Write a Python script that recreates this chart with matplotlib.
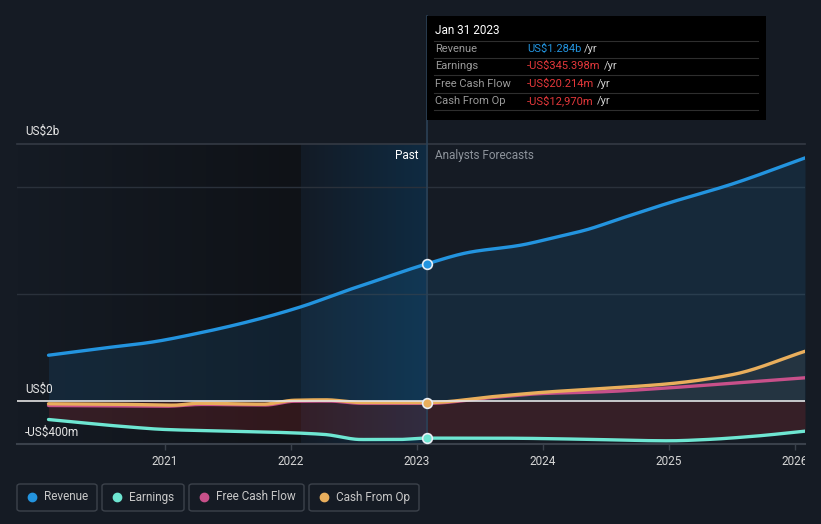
import matplotlib
matplotlib.use('Agg')
import matplotlib.pyplot as plt
import numpy as np
from matplotlib.patches import Rectangle, FancyBboxPatch
from matplotlib.lines import Line2D
from matplotlib.transforms import Bbox
from matplotlib.colors import LinearSegmentedColormap

plt.rcParams['font.family'] = ['Roboto', 'DejaVu Sans']

# ---- datos (US$ miles de millones, años decimales) ----
rev_x = [2020.08, 2020.49, 2020.89, 2021.28, 2021.68, 2022.08, 2022.47, 2022.63, 2023.08,
         2023.42, 2023.82, 2024.08, 2024.35, 2024.61, 2025.0, 2025.5, 2026.08]
rev_y = [0.430, 0.493, 0.551, 0.639, 0.748, 0.882, 1.045, 1.108, 1.284,
         1.393, 1.458, 1.527, 1.604, 1.705, 1.854, 2.030, 2.275]

earn_x = [2020.08, 2020.7, 2021.0, 2021.5, 2022.0, 2022.27, 2022.56, 2022.85, 2023.08,
          2023.73, 2024.3, 2025.0, 2025.3, 2025.68, 2026.08]
earn_y = [-0.171, -0.239, -0.264, -0.280, -0.295, -0.311, -0.358, -0.358, -0.345,
          -0.346, -0.355, -0.370, -0.358, -0.327, -0.280]

fcf_x = [2020.08, 2020.6, 2021.0, 2021.3, 2021.8, 2022.03, 2022.3, 2022.56, 2023.08,
         2023.6, 2024.0, 2024.47, 2025.0, 2025.5, 2026.08]
fcf_y = [-0.040, -0.044, -0.047, -0.030, -0.035, 0.000, 0.002, -0.019, -0.020,
         0.035, 0.072, 0.088, 0.125, 0.168, 0.219]

cfo_x = [2020.08, 2020.6, 2021.07, 2021.27, 2021.78, 2022.03, 2022.28, 2022.56, 2023.08,
         2023.64, 2024.01, 2024.47, 2025.0, 2025.51, 2026.08]
cfo_y = [-0.024, -0.028, -0.037, -0.019, -0.028, 0.009, 0.013, -0.012, -0.013,
         0.047, 0.084, 0.119, 0.163, 0.250, 0.467]

years = [2021, 2022, 2023, 2024, 2025, 2026]
now = 2023.08
past_start = 2022.08

c_rev = '#2394df'
c_earn = '#6ee6d2'
c_fcf = '#c8508a'
c_cfo = '#e9ae5c'
bg = '#151b24'


def suave(xs, ys, n=30):
    # curva monótona (Fritsch-Carlson) solo para dibujar, como hace la web
    x = np.asarray(xs, float)
    y = np.asarray(ys, float)
    h = np.diff(x)
    d = np.diff(y) / h
    m = np.zeros_like(y)
    m[0], m[-1] = d[0], d[-1]
    for k in range(1, len(y) - 1):
        if d[k - 1] * d[k] > 0:
            w1 = 2 * h[k] + h[k - 1]
            w2 = h[k] + 2 * h[k - 1]
            m[k] = (w1 + w2) / (w1 / d[k - 1] + w2 / d[k])
    px, py = [], []
    for k in range(len(h)):
        t = np.linspace(0, 1, n, endpoint=False)
        h00 = 2 * t**3 - 3 * t**2 + 1
        h10 = t**3 - 2 * t**2 + t
        h01 = -2 * t**3 + 3 * t**2
        h11 = t**3 - t**2
        px.append(x[k] + t * h[k])
        py.append(h00 * y[k] + h10 * h[k] * m[k] + h01 * y[k + 1] + h11 * h[k] * m[k + 1])
    px.append([x[-1]])
    py.append([y[-1]])
    return np.concatenate(px), np.concatenate(py)


W, H = 821, 524
fig = plt.figure(figsize=(W / 100, H / 100), dpi=100, facecolor=bg)

def fx(px):
    return px / W

def fy(py):
    return 1 - py / H

ax = fig.add_axes([fx(17), fy(444), fx(805) - fx(17), fy(144) - fy(444)])
ax.set_facecolor(bg)
x0, x1 = 2019.83, 2026.08
y0, y1 = -0.40, 2.405
ax.set_xlim(x0, x1)
ax.set_ylim(y0, y1)

# fondos degradados
grad = np.linspace(0, 1, 256).reshape(1, -1)
cm_left = LinearSegmentedColormap.from_list('l', [bg, '#0f1217'])
ax.imshow(grad, extent=[x0, past_start, y0, y1], aspect='auto', cmap=cm_left, zorder=0)
cm_past = LinearSegmentedColormap.from_list('p', ['#131b26', '#0f2b42'])
ax.imshow(grad, extent=[past_start, now, y0, y1], aspect='auto', cmap=cm_past, zorder=0)

# rejilla
for g in [1.0, 2.0]:
    ax.axhline(g, color='#2a313b', lw=1, zorder=1)
ax.axhline(y1, color='#343a44', lw=1.2, zorder=1, clip_on=False)
ax.axhline(0, color='#e4e4e4', lw=1.2, zorder=6)

sx_rev, sy_rev = suave(rev_x, rev_y)
sx_earn, sy_earn = suave(earn_x, earn_y)
sx_fcf, sy_fcf = suave(fcf_x, fcf_y)
sx_cfo, sy_cfo = suave(cfo_x, cfo_y)

# rellenos
ax.fill_between(sx_rev, sy_rev, 0, color=c_rev, alpha=0.12, lw=0, zorder=2)
ax.fill_between(sx_cfo, sy_cfo, 0, where=sy_cfo > 0, color='#8a8a7a', alpha=0.12, lw=0,
                zorder=2, interpolate=True)
ax.fill_between(sx_earn, sy_earn, 0, color='#e5383b', alpha=0.16, lw=0, zorder=2)

# linea vertical de la fecha actual
ax.axvline(now, color='#2b4156', lw=1.2, zorder=3)
fig.add_artist(Line2D([fx(427), fx(427)], [fy(144), fy(16)], color='#2b4156', lw=1.2, zorder=3))

# lineas
ax.plot(sx_rev, sy_rev, color=c_rev, lw=2.4, zorder=5, solid_capstyle='round')
ax.plot(sx_earn, sy_earn, color=c_earn, lw=2.4, zorder=5, solid_capstyle='round')
ax.plot(sx_fcf, sy_fcf, color=c_fcf, lw=2.4, zorder=5, solid_capstyle='round')
ax.plot(sx_cfo, sy_cfo, color=c_cfo, lw=2.4, zorder=5, solid_capstyle='round')

# marcadores en la fecha actual
ax.plot(now, rev_y[rev_x.index(now)], 'o', ms=7, mfc=c_rev, mec='#e8eef5', mew=1.2, zorder=8)
ax.plot(now, earn_y[earn_x.index(now)], 'o', ms=7, mfc=c_earn, mec='#e8eef5', mew=1.2, zorder=8)
ax.plot(now, cfo_y[cfo_x.index(now)], 'o', ms=7, mfc=c_cfo, mec='#e8eef5', mew=1.2, zorder=8)

# ejes
for s in ax.spines.values():
    s.set_visible(False)
ax.axhline(y0, color='#3a414b', lw=1.5, zorder=6, clip_on=False)
ax.set_yticks([])
ax.set_xticks(years)
ax.set_xticklabels([str(y) for y in years])
ax.tick_params(axis='x', colors='#3a414b', length=4, width=1, pad=4, labelcolor='#d6d6d6', labelsize=8.5)
clip = Bbox([[0, 0], [805, H]])
for lbl in ax.get_xticklabels():
    lbl.set_clip_box(clip)
    lbl.set_clip_on(True)

# etiquetas del eje y
txt_kw = dict(color='#e6e6e6', fontsize=8.5, va='center', ha='left')
fig.text(fx(25), fy(131), 'US$2b', **txt_kw)
fig.text(fx(25), fy(389), 'US$0', **txt_kw)
fig.text(fx(25), fy(432), '-US$400m', **txt_kw)

fig.text(fx(418), fy(156), 'Past', color='#ffffff', fontsize=8.5, ha='right', va='center')
fig.text(fx(435), fy(156), 'Analysts Forecasts', color='#8d939b', fontsize=8.5, ha='left', va='center')

# tooltip
fig.add_artist(Rectangle((fx(427), fy(120)), fx(766) - fx(427), fy(16) - fy(120),
                         facecolor='#000000', edgecolor='none', zorder=10))
fig.text(fx(435), fy(31), 'Jan 31 2023', color='#ffffff', fontsize=8.5, ha='left', va='center', zorder=11)
rows = [('Revenue', 'US$1.284b', c_rev),
        ('Earnings', '-US$345.398m', '#e5383b'),
        ('Free Cash Flow', '-US$20.214m', '#e5383b'),
        ('Cash From Op', '-US$12,970m', '#e5383b')]
row_y = [49, 66, 84, 101]
for sy in [41, 58, 75, 93, 110]:
    fig.add_artist(Line2D([fx(434), fx(758)], [fy(sy), fy(sy)], color='#2e2e2e', lw=0.8, zorder=11))
renderer = fig.canvas.get_renderer()
for (lab, val, col), ry in zip(rows, row_y):
    fig.text(fx(435), fy(ry), lab, color='#9a9a9a', fontsize=8, ha='left', va='center', zorder=11)
    t = fig.text(fx(527), fy(ry), val, color=col, fontsize=8, ha='left', va='center', zorder=11)
    bb = t.get_window_extent(renderer=renderer)
    fig.text(bb.x1 / W + fx(3), fy(ry), '/yr', color='#cfcfcf', fontsize=8, ha='left', va='center', zorder=11)

# leyenda
legend = [('Revenue', c_rev, 17, 97), ('Earnings', c_earn, 102, 184),
          ('Free Cash Flow', c_fcf, 189, 304), ('Cash From Op', c_cfo, 309, 419)]
for name, col, lx, rx in legend:
    fig.add_artist(FancyBboxPatch((fx(lx), fy(511)), fx(rx) - fx(lx), fy(484) - fy(511),
                                  boxstyle='round,pad=0,rounding_size=0.004',
                                  facecolor=bg, edgecolor='#3c424b', lw=1))
    fig.add_artist(Line2D([fx(lx + 15)], [fy(497)], marker='o', ms=6, color=col, lw=0))
    fig.text(fx(lx + 27), fy(497), name, color='#c8c8c8', fontsize=8.5, ha='left', va='center')

fig.savefig('out.png', dpi=100, facecolor=bg)
